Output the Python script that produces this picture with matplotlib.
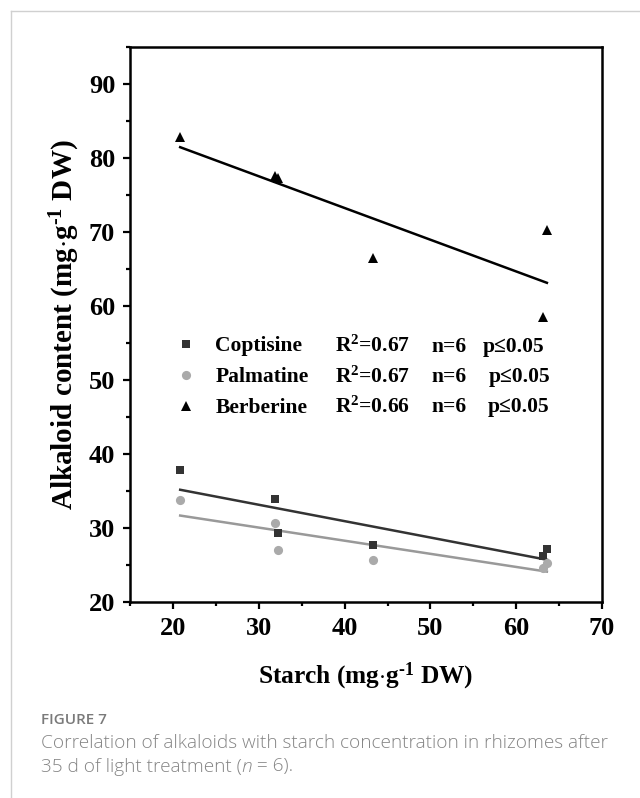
import numpy as np
import matplotlib
matplotlib.use('Agg')
import matplotlib.pyplot as plt
from matplotlib.lines import Line2D

# starch content of the six samples (mg/g DW)
starch = np.array([20.8, 31.9, 32.2, 43.3, 63.1, 63.6])

# alkaloid contents (mg/g DW)
coptisine = np.array([37.8, 33.9, 29.3, 27.7, 26.2, 27.1])
palmatine = np.array([33.8, 30.6, 27.0, 25.7, 24.5, 25.2])
berberine = np.array([82.8, 77.5, 77.3, 66.5, 58.5, 70.2])

names = ['Coptisine', 'Palmatine', 'Berberine']
r2_vals = ['0.67', '0.67', '0.66']
n_vals = ['6', '6', '6']
p_vals = ['0.05', '0.05', '0.05']

plt.rcParams['font.family'] = ['Liberation Serif', 'DejaVu Serif']
plt.rcParams['font.weight'] = 'bold'
plt.rcParams['axes.labelweight'] = 'bold'
plt.rcParams['mathtext.fontset'] = 'custom'
plt.rcParams['mathtext.rm'] = 'Liberation Serif:bold'
plt.rcParams['mathtext.it'] = 'Liberation Serif:bold'
plt.rcParams['mathtext.bf'] = 'Liberation Serif:bold'

fig = plt.figure(figsize=(6.4, 7.98), dpi=100)
ax = fig.add_axes([0.2039, 0.2460, 0.7363, 0.6955])

series = [
    (coptisine, dict(marker='s', color='#333333', ms=5.8), '#333333'),
    (palmatine, dict(marker='o', color='#aaaaaa', ms=6.6), '#999999'),
    (berberine, dict(marker='^', color='black', ms=7.4), 'black'),
]

handles = []
for yv, mstyle, lc in series:
    h, = ax.plot(starch, yv, linestyle='none', markeredgewidth=0, zorder=3, **mstyle)
    handles.append(h)
    slope, icpt = np.polyfit(starch, yv, 1)
    xs = np.array([starch.min(), starch.max()])
    ax.plot(xs, slope * xs + icpt, color=lc, lw=1.8, zorder=2)

ax.set_xlim(15, 70)
ax.set_ylim(20, 95)
ax.set_xticks(np.arange(20, 71, 10))
ax.set_yticks(np.arange(20, 91, 10))
ax.set_xticks(np.arange(15, 71, 5), minor=True)
ax.set_yticks(np.arange(20, 96, 5), minor=True)
ax.tick_params(which='major', direction='out', length=5, width=1.6,
               labelsize=19, pad=6)
ax.tick_params(which='minor', direction='out', length=3, width=1.6)
for s in ax.spines.values():
    s.set_linewidth(1.8)

ax.set_xlabel('Starch (mg$\\cdot$g$^{\\text{-1}}$ DW)', fontsize=18.3, labelpad=15)
ax.set_ylabel('Alkaloid content (mg$\\cdot$g$^{\\text{-1}}$ DW)', fontsize=21, labelpad=5)

leg = ax.legend(handles, names, loc='upper left', bbox_to_anchor=(0.1, 0.478),
                frameon=False, fontsize=15.5, handlelength=0.8, handletextpad=0.95,
                labelspacing=0.5, borderaxespad=0, borderpad=0)

row_y = [0.4595, 0.4045, 0.3505]
p_x = [0.748, 0.761, 0.758]
for i in range(3):
    ax.text(0.434, row_y[i], 'R$^{2}$=' + r2_vals[i], transform=ax.transAxes,
            fontsize=15.5, va='center', ha='left')
    ax.text(0.638, row_y[i], 'n=' + n_vals[i], transform=ax.transAxes,
            fontsize=15.5, va='center', ha='left')
    ax.text(p_x[i], row_y[i], 'p\u2264' + p_vals[i], transform=ax.transAxes,
            fontsize=15.5, va='center', ha='left')

# caption
cap = dict(family='Open Sans', weight='light', fontsize=13.7, color='#858585')
fig.text(0.064, 1 - 724 / 798, 'FIGURE 7', family='Open Sans', weight='semibold',
         fontsize=11, color='#7a7a7a', va='baseline')
fig.text(0.064, 1 - 748 / 798,
         'Correlation of alkaloids with starch concentration in rhizomes after',
         va='baseline', **cap)
t1 = fig.text(0.064, 1 - 771.5 / 798, '35 d of light treatment (', va='baseline', **cap)
t2 = fig.text(0, 0, 'n', style='italic', **cap)
t2.set_transform(matplotlib.transforms.IdentityTransform())
t3 = fig.text(0, 0, ' = 6).', **cap)
fig.canvas.draw()
r = fig.canvas.get_renderer()
bb1 = t1.get_window_extent(r)
t2.set_position((bb1.x1, bb1.y0))
t2.set_va('bottom')
bb2 = t2.get_window_extent(r)
t3.set_transform(matplotlib.transforms.IdentityTransform())
t3.set_position((bb2.x1, bb1.y0))
t3.set_va('bottom')

# page frame
fig.add_artist(Line2D([11 / 640, 1], [1 - 11 / 798, 1 - 11 / 798],
                      transform=fig.transFigure, color='#d0d0d0', lw=1))
fig.add_artist(Line2D([11 / 640, 11 / 640], [0, 1 - 11 / 798],
                      transform=fig.transFigure, color='#d0d0d0', lw=1))

fig.savefig('out.png', dpi=100)
